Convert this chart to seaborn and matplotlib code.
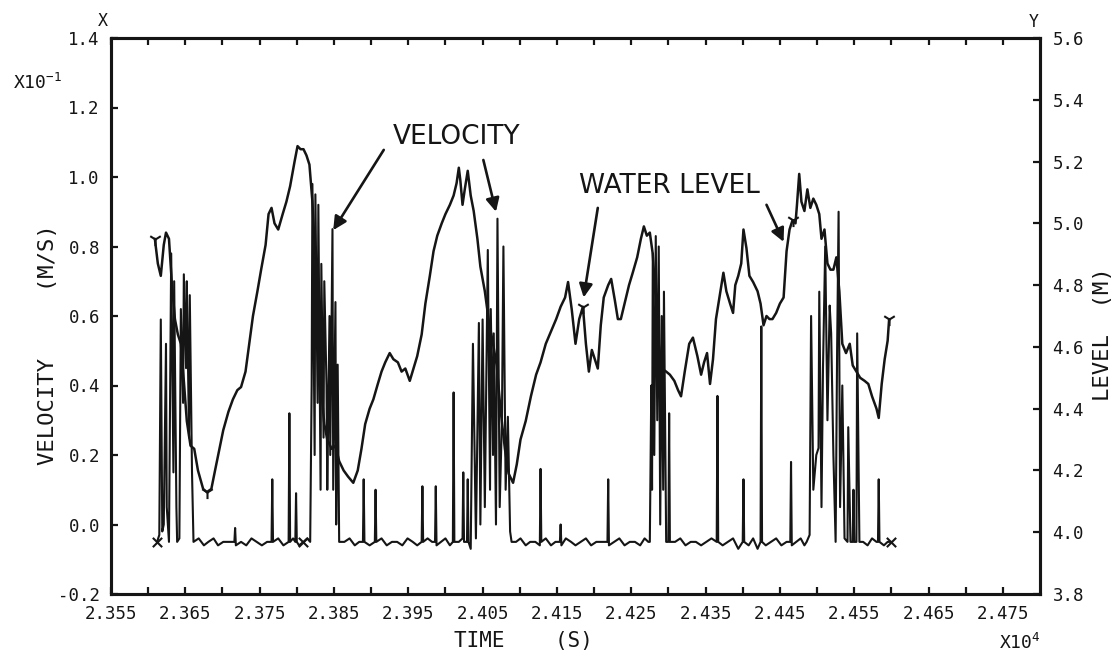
import matplotlib
matplotlib.use("Agg")
import matplotlib.pyplot as plt
import numpy as np
import pandas as pd
import seaborn as sns

# ---------------- data (time in seconds) ----------------
level_t = [23609, 23613, 23617, 23621, 23624, 23628, 23632, 23636, 23640, 23644,
           23648, 23652, 23657, 23662, 23667, 23674, 23679, 23685, 23690, 23696,
           23701, 23708, 23714, 23720, 23725, 23731, 23736, 23741, 23747, 23752,
           23758, 23762, 23766, 23770, 23775, 23781, 23786, 23791, 23797, 23801,
           23805, 23809, 23813, 23817, 23821, 23825, 23829, 23833, 23837, 23841,
           23847, 23852, 23857, 23863, 23869, 23876, 23882, 23887, 23892, 23898,
           23903, 23909, 23914, 23919, 23925, 23930, 23936, 23941, 23946, 23952,
           23957, 23962, 23968, 23973, 23979, 23984, 23989, 23995, 24000, 24006,
           24011, 24015, 24018, 24020, 24023, 24026, 24030, 24034, 24038, 24043,
           24047, 24053, 24058, 24064, 24069, 24074, 24080, 24085, 24091, 24096,
           24101, 24108, 24115, 24122, 24128, 24135, 24142, 24149, 24155, 24161,
           24165, 24170, 24175, 24180, 24185, 24189, 24193, 24197, 24201, 24205,
           24209, 24213, 24219, 24223, 24228, 24232, 24236, 24242, 24247, 24252,
           24258, 24263, 24267, 24271, 24275, 24279, 24283, 24287, 24291, 24297,
           24302, 24308, 24313, 24317, 24322, 24328, 24333, 24339, 24344, 24348,
           24352, 24356, 24360, 24364, 24368, 24374, 24378, 24383, 24387, 24390,
           24394, 24398, 24401, 24405, 24409, 24414, 24420, 24424, 24428, 24432,
           24436, 24440, 24445, 24450, 24455, 24459, 24463, 24467, 24471, 24473,
           24476, 24479, 24483, 24487, 24491, 24495, 24499, 24503, 24506, 24510,
           24514, 24518, 24522, 24526, 24530, 24534, 24539, 24544, 24548, 24553,
           24558, 24564, 24569, 24574, 24580, 24583, 24587, 24591, 24595, 24597]
level_m = [4.95, 4.87, 4.83, 4.93, 4.97, 4.95, 4.80, 4.69, 4.64, 4.61,
           4.49, 4.36, 4.28, 4.27, 4.20, 4.14, 4.13, 4.14, 4.20, 4.27,
           4.33, 4.39, 4.43, 4.46, 4.47, 4.52, 4.61, 4.70, 4.78, 4.85,
           4.93, 5.03, 5.05, 5.00, 4.98, 5.03, 5.07, 5.12, 5.20, 5.25,
           5.24, 5.24, 5.22, 5.19, 5.07, 4.88, 4.65, 4.46, 4.35, 4.30,
           4.27, 4.28, 4.23, 4.20, 4.18, 4.16, 4.20, 4.27, 4.35, 4.40,
           4.43, 4.48, 4.52, 4.55, 4.58, 4.56, 4.55, 4.52, 4.53, 4.49,
           4.53, 4.57, 4.64, 4.74, 4.83, 4.91, 4.96, 5.00, 5.03, 5.06,
           5.09, 5.13, 5.18, 5.14, 5.06, 5.11, 5.17, 5.09, 5.04, 4.95,
           4.86, 4.78, 4.69, 4.61, 4.54, 4.40, 4.27, 4.19, 4.16, 4.22,
           4.30, 4.36, 4.44, 4.51, 4.55, 4.61, 4.65, 4.69, 4.73, 4.76,
           4.81, 4.72, 4.61, 4.69, 4.73, 4.61, 4.52, 4.59, 4.56, 4.53,
           4.67, 4.76, 4.80, 4.82, 4.75, 4.69, 4.69, 4.75, 4.80, 4.84,
           4.89, 4.95, 4.99, 4.96, 4.97, 4.90, 4.75, 4.61, 4.53, 4.52,
           4.51, 4.49, 4.46, 4.44, 4.52, 4.61, 4.63, 4.57, 4.51, 4.55,
           4.58, 4.48, 4.56, 4.69, 4.75, 4.84, 4.78, 4.74, 4.71, 4.80,
           4.83, 4.87, 4.98, 4.92, 4.83, 4.81, 4.78, 4.74, 4.67, 4.70,
           4.69, 4.69, 4.71, 4.74, 4.76, 4.91, 4.98, 5.01, 5.00, 5.06,
           5.16, 5.07, 5.04, 5.11, 5.05, 5.08, 5.06, 5.03, 4.95, 4.98,
           4.87, 4.85, 4.85, 4.89, 4.78, 4.61, 4.58, 4.61, 4.54, 4.52,
           4.50, 4.49, 4.48, 4.44, 4.40, 4.37, 4.48, 4.56, 4.62, 4.69]

# velocity (x10^-1 m/s), read segment by segment
vel_t_1 = [23612, 23615, 23617, 23619, 23621, 23624, 23625, 23628, 23631, 23634, 23635, 23638,
           23639, 23642, 23644, 23647, 23648, 23651, 23652, 23655, 23656, 23659, 23661]
vel_v_1 = [-0.05, -0.03, 0.59, -0.02, 0.00, 0.52, 0.05, -0.05, 0.78, 0.15, 0.70, 0.05,
           -0.05, -0.04, 0.62, 0.35, 0.72, 0.45, 0.70, 0.25, 0.66, 0.15, -0.05]
vel_t_2 = [23668, 23675, 23681, 23688, 23694, 23701, 23708, 23716, 23717, 23718, 23725, 23732,
           23739, 23746, 23753, 23760, 23766, 23767, 23768, 23775, 23782, 23789, 23790, 23791,
           23795, 23798, 23799, 23800, 23803, 23809, 23814]
vel_v_2 = [-0.04, -0.06, -0.05, -0.04, -0.06, -0.05, -0.05, -0.05, -0.01, -0.06, -0.05, -0.06,
           -0.04, -0.05, -0.06, -0.05, -0.05, 0.13, -0.05, -0.04, -0.06, -0.05, 0.32, -0.05,
           -0.04, -0.05, 0.09, -0.05, -0.06, -0.05, -0.04]
vel_t_3 = [23818, 23820, 23821, 23824, 23825, 23828, 23829, 23832, 23833, 23836, 23837, 23840,
           23841, 23844, 23845, 23848, 23849, 23852, 23853, 23855, 23857]
vel_v_3 = [-0.05, 0.40, 0.98, 0.20, 0.95, 0.35, 0.92, 0.10, 0.75, 0.25, 0.70, 0.40,
           0.10, 0.60, 0.20, 0.85, 0.10, 0.64, 0.00, 0.46, -0.05]
vel_t_4 = [23864, 23871, 23878, 23884, 23889, 23890, 23891, 23898, 23905, 23906, 23907, 23914,
           23921, 23928, 23935, 23942, 23949, 23956, 23962, 23968, 23969, 23970, 23976, 23982,
           23986, 23987, 23988, 23994, 24000, 24006, 24010, 24011, 24012, 24018, 24023, 24024,
           24025, 24029, 24030, 24031]
vel_v_4 = [-0.05, -0.04, -0.06, -0.05, -0.05, 0.13, -0.05, -0.06, -0.05, 0.10, -0.05, -0.04,
           -0.06, -0.05, -0.05, -0.06, -0.04, -0.05, -0.06, -0.05, 0.11, -0.05, -0.04, -0.05,
           -0.05, 0.11, -0.06, -0.05, -0.04, -0.06, -0.05, 0.38, -0.05, -0.05, -0.04, 0.15,
           -0.05, -0.05, 0.13, -0.05]
vel_t_5 = [24034, 24037, 24041, 24045, 24047, 24050, 24053, 24057, 24060, 24061, 24064, 24065,
           24068, 24070, 24073, 24076, 24078, 24081, 24084, 24087, 24089]
vel_v_5 = [-0.07, 0.52, -0.04, 0.58, 0.00, 0.59, 0.05, 0.79, 0.10, 0.62, 0.20, 0.55,
           0.00, 0.88, 0.05, 0.30, 0.80, 0.10, 0.31, -0.02, -0.05]
vel_t_6 = [24095, 24101, 24108, 24114, 24121, 24127, 24128, 24129, 24135, 24142, 24148, 24154,
           24155, 24156, 24162, 24169, 24175, 24182, 24189, 24196, 24203, 24210, 24218, 24219,
           24220, 24227, 24234, 24241, 24248, 24255, 24262, 24268, 24273]
vel_v_6 = [-0.05, -0.04, -0.06, -0.05, -0.05, -0.06, 0.16, -0.05, -0.04, -0.06, -0.05, -0.05,
           0.00, -0.06, -0.04, -0.05, -0.06, -0.05, -0.04, -0.06, -0.05, -0.05, -0.05, 0.13,
           -0.06, -0.05, -0.04, -0.06, -0.05, -0.05, -0.06, -0.04, -0.05]
vel_t_7 = [24275, 24277, 24278, 24279, 24281, 24283, 24285, 24287, 24289, 24291, 24293, 24294,
           24297, 24300, 24301, 24302]
vel_v_7 = [-0.05, 0.40, 0.10, 0.78, 0.20, 0.83, 0.30, 0.80, 0.00, 0.60, 0.10, 0.67,
           -0.05, -0.05, 0.32, -0.05]
vel_t_8 = [24309, 24316, 24323, 24330, 24337, 24344, 24351, 24358, 24365, 24366, 24367, 24373,
           24380, 24387, 24394, 24400, 24401, 24402, 24408, 24414, 24420, 24424, 24425, 24426,
           24431, 24438, 24445, 24452, 24459, 24464, 24465, 24466, 24472, 24478, 24483]
vel_v_8 = [-0.05, -0.04, -0.06, -0.05, -0.05, -0.06, -0.05, -0.04, -0.05, 0.37, -0.05, -0.06,
           -0.05, -0.04, -0.07, -0.05, 0.13, -0.05, -0.06, -0.04, -0.07, -0.05, 0.57, -0.05,
           -0.06, -0.05, -0.04, -0.06, -0.05, -0.05, 0.18, -0.06, -0.05, -0.04, -0.06]
vel_t_9 = [24486, 24490, 24492, 24495, 24499, 24502, 24503, 24506, 24508, 24511, 24514, 24517,
           24519, 24522, 24525, 24527, 24529, 24531, 24534, 24537, 24541, 24542, 24545, 24548,
           24549, 24550, 24553, 24554, 24557]
vel_v_9 = [-0.05, -0.03, 0.60, 0.10, 0.20, 0.22, 0.67, 0.05, 0.45, 0.80, 0.30, 0.63,
           0.55, 0.20, -0.05, 0.50, 0.90, 0.05, 0.40, -0.04, -0.05, 0.28, -0.05, -0.05,
           0.10, -0.05, -0.05, 0.55, -0.05]
vel_t_10 = [24562, 24568, 24574, 24580, 24582, 24583, 24584, 24590, 24595, 24600]
vel_v_10 = [-0.05, -0.06, -0.04, -0.05, -0.05, 0.13, -0.05, -0.06, -0.05, -0.05]

vel_marker_t = [23612, 23809, 24600]
level_marker_t = [23609, 23679, 24185, 24467, 24597]

x_major = [2.355, 2.365, 2.375, 2.385, 2.395, 2.405, 2.415, 2.425, 2.435, 2.445, 2.455, 2.465, 2.475]
x_minor = [2.360, 2.370, 2.380, 2.390, 2.400, 2.410, 2.420, 2.430, 2.440, 2.450, 2.460, 2.470]
x_labels = ["2.355", "2.365", "2.375", "2.385", "2.395", "2.405", "2.415", "2.425",
            "2.435", "2.445", "2.455", "2.465", "2.475"]
vel_ticks = [-0.2, 0.0, 0.2, 0.4, 0.6, 0.8, 1.0, 1.2, 1.4]
lvl_ticks = [3.8, 4.0, 4.2, 4.4, 4.6, 4.8, 5.0, 5.2, 5.4, 5.6]

# ---------------- build frames ----------------
vel_t = (vel_t_1 + vel_t_2 + vel_t_3 + vel_t_4 + vel_t_5 + vel_t_6 + vel_t_7 +
         vel_t_8 + vel_t_9 + vel_t_10)
vel_v = (vel_v_1 + vel_v_2 + vel_v_3 + vel_v_4 + vel_v_5 + vel_v_6 + vel_v_7 +
         vel_v_8 + vel_v_9 + vel_v_10)
vel = pd.DataFrame({"t": np.array(vel_t) / 1e4, "v": vel_v})
lvl = pd.DataFrame({"t": np.array(level_t) / 1e4, "m": level_m})
vmap = dict(zip(vel_t, vel_v))
lmap = dict(zip(level_t, level_m))
vel_mk = pd.DataFrame({"t": np.array(vel_marker_t) / 1e4, "v": [vmap[t] for t in vel_marker_t]})
lvl_mk = pd.DataFrame({"t": np.array(level_marker_t) / 1e4, "m": [lmap[t] for t in level_marker_t]})

# ---------------- style ----------------
sns.set_style("white")
plt.rcParams["font.family"] = ["DejaVu Sans Mono", "DejaVu Sans"]
plt.rcParams["mathtext.default"] = "regular"
ink = "#151515"

W, H = 1115, 656
fig = plt.figure(figsize=(W / 100, H / 100), dpi=100)
rect = [111 / W, 1 - 594 / H, (1040 - 111) / W, (594 - 38) / H]
ax = fig.add_axes(rect)
ax2 = ax.twinx()
ax2.set_position(rect)

sns.lineplot(data=vel, x="t", y="v", ax=ax, color=ink, lw=1.5, estimator=None, sort=False)
sns.lineplot(data=lvl, x="t", y="m", ax=ax2, color=ink, lw=1.8, estimator=None, sort=False)
sns.scatterplot(data=vel_mk, x="t", y="v", ax=ax, marker="x", s=45, color=ink, linewidth=1.5, zorder=5)
sns.scatterplot(data=lvl_mk, x="t", y="m", ax=ax2, marker="1", s=90, color=ink, linewidth=1.5, zorder=5)

ax.set_xlim(2.355, 2.480)
ax.set_ylim(-0.2, 1.4)
ax2.set_ylim(3.8, 5.6)

ax.set_xticks(x_major)
ax.set_xticklabels(x_labels)
ax.set_xticks(x_minor, minor=True)
ax.set_yticks(vel_ticks)
ax.set_yticklabels([f"{v:.1f}" for v in vel_ticks])
ax2.set_yticks(lvl_ticks)
ax2.set_yticklabels([f"{v:.1f}" for v in lvl_ticks])

for a in (ax, ax2):
    a.set_xlabel("")
    a.set_ylabel("")
    for s in a.spines.values():
        s.set_linewidth(2.2)
        s.set_color(ink)

ax.tick_params(axis="x", which="both", direction="in", length=5, width=1.6,
               top=True, bottom=True, labelsize=12.5, pad=8, colors=ink)
ax.tick_params(axis="y", direction="in", length=5, width=1.6, labelsize=12.5,
               pad=8, colors=ink, right=False)
ax2.tick_params(axis="y", direction="in", length=5, width=1.6, labelsize=12.5,
                pad=9, colors=ink)

# ---------------- annotations ----------------
anno_font = dict(family="DejaVu Sans", fontsize=19, color=ink, ha="center", va="center")
ax.text(24015 / 1e4, 1.116, "VELOCITY", **anno_font)
ax2.text(24301 / 1e4, 5.12, "WATER LEVEL", **anno_font)
arrow = dict(arrowstyle="-|>", color=ink, lw=1.9, mutation_scale=20, shrinkA=0, shrinkB=0)
ax.annotate("", xy=(23849 / 1e4, 0.847), xytext=(23917 / 1e4, 1.078), arrowprops=arrow)
ax.annotate("", xy=(24068 / 1e4, 0.90), xytext=(24051 / 1e4, 1.049), arrowprops=arrow)
ax2.annotate("", xy=(24186 / 1e4, 4.76), xytext=(24205 / 1e4, 5.05), arrowprops=arrow)
ax2.annotate("", xy=(24455 / 1e4, 4.94), xytext=(24432 / 1e4, 5.06), arrowprops=arrow)

# ---------------- figure texts ----------------
def ftxt(x, y, s, **kw):
    fig.text(x / W, 1 - y / H, s, color=ink, ha="center", va="center", **kw)

ftxt(103, 21, "X", fontsize=12)
ftxt(1034, 22, "Y", fontsize=12)
ftxt(38, 83, "X10$^{-1}$", fontsize=13)
ftxt(1020, 643, "X10$^{4}$", fontsize=13)
ftxt(523, 641, "TIME    (S)", fontsize=15)
ftxt(48, 345, "VELOCITY     (M/S)", fontsize=16, rotation=90)
ftxt(1103, 334, "LEVEL  (M)", fontsize=16, rotation=90)

fig.savefig("out.png", dpi=100, facecolor="white")
